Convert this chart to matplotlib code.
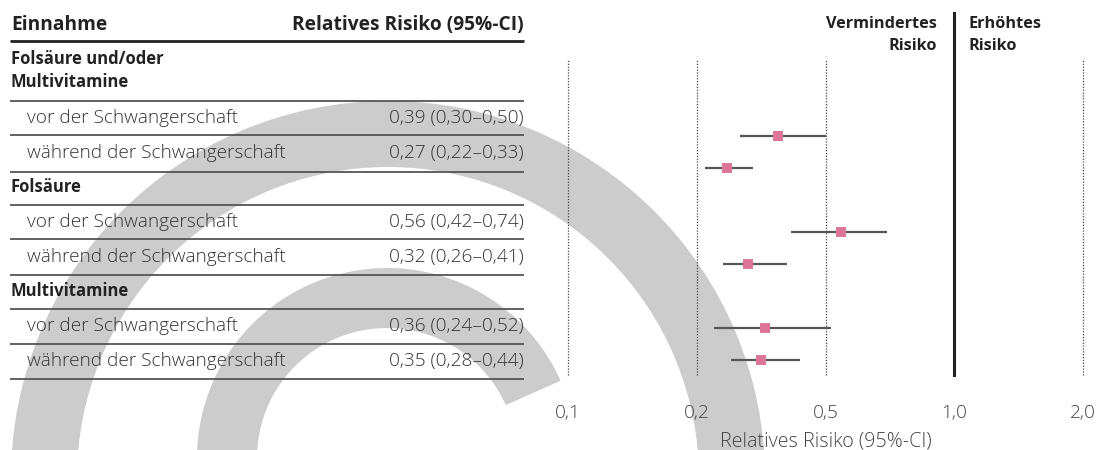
import matplotlib
matplotlib.use('Agg')
import matplotlib.pyplot as plt
import numpy as np
from matplotlib.patches import Wedge

plt.rcParams['font.family'] = ['Open Sans', 'DejaVu Sans']

# data
groups = ['Folsäure und/oder\nMultivitamine', 'Folsäure', 'Multivitamine']
timing = ['vor der Schwangerschaft', 'während der Schwangerschaft']
rr = [0.39, 0.27, 0.56, 0.32, 0.36, 0.35]
ci_low = [0.30, 0.22, 0.42, 0.26, 0.24, 0.28]
ci_high = [0.50, 0.33, 0.74, 0.41, 0.52, 0.44]
tick_vals = [0.1, 0.2, 0.5, 1.0, 2.0]
tick_labels = ['0,1', '0,2', '0,5', '1,0', '2,0']


def de(v):
    return f'{v:.2f}'.replace('.', ',')


pink = '#dd7696'
dark = '#222222'
txt = '#333333'
LW = 'light'
FS = 13.7    # light row text
FH = 13.8    # table header
FG = 12      # group labels
FR = 11.7    # risk header

fig = plt.figure(figsize=(11.05, 4.5), dpi=100)

# background layer in pixel units (y down) for the watermark arcs and the table
bg = fig.add_axes([0, 0, 1, 1], zorder=0)
bg.set_xlim(0, 1105)
bg.set_ylim(450, 0)
bg.axis('off')

bg.add_patch(Wedge((388, 478), 377, 0, 360, width=66, color='#cccccc', lw=0))
bg.add_patch(Wedge((387, 458), 190, -270, -24, width=60, color='#cccccc', lw=0))

# table header
bg.text(11, 30, 'Einnahme', fontsize=FH, fontweight='bold', color=dark, va='baseline')
bg.text(524, 30, 'Relatives Risiko (95%-CI)', fontsize=FH, fontweight='bold',
        color=dark, va='baseline', ha='right')
bg.hlines(40.7, 10, 524, color=dark, lw=2.0)

# table rows
group_base = [64.3, 192.3, 295.7]
row_base = [[123.3, 158.3], [226.7, 261.7], [330.7, 365.7]]
row_lines = [[100.7, 135, 172], [204.7, 238.7, 275], [309, 344.3, 379]]
k = 0
for g, name in enumerate(groups):
    for j, part in enumerate(name.split('\n')):
        bg.text(11, group_base[g] + 23 * j, part, fontsize=FG, fontweight='bold',
                color=dark, va='baseline')
    for t in range(2):
        bg.text(27, row_base[g][t], timing[t], fontsize=FS, fontweight=LW,
                color=txt, va='baseline')
        bg.text(524, row_base[g][t], f'{de(rr[k])} ({de(ci_low[k])}–{de(ci_high[k])})',
                fontsize=FS, fontweight=LW, color=txt, va='baseline', ha='right')
        k += 1
    for y in row_lines[g]:
        bg.hlines(y, 10, 524, color='#555555', lw=1.3)

# header above the forest plot
bg.text(937, 28, 'Vermindertes', fontsize=FR, fontweight='bold', color=dark, ha='right', va='baseline')
bg.text(937, 50, 'Risiko', fontsize=FR, fontweight='bold', color=dark, ha='right', va='baseline')
bg.text(968, 28, 'Erhöhtes', fontsize=FR, fontweight='bold', color=dark, va='baseline')
bg.text(968, 50, 'Risiko', fontsize=FR, fontweight='bold', color=dark, va='baseline')

# forest plot
ax = fig.add_axes([568 / 1105, 75 / 450, 515 / 1105, 316 / 450], zorder=1)
ax.patch.set_alpha(0)
idx = list(range(len(tick_vals)))
ax.set_xscale('function', functions=(lambda x: np.interp(x, tick_vals, idx),
                                     lambda u: np.interp(u, idx, tick_vals)))
ax.set_xlim(tick_vals[0], tick_vals[-1])
ax.set_ylim(8.465, -1.413)

ypos = [1, 2, 4, 5, 7, 8]
for v in tick_vals:
    if v == 1.0:
        ax.axvline(v, ymin=0, ymax=(375 - 13) / 316, clip_on=False, color=dark, lw=2.2)
    else:
        ax.axvline(v, color='#444444', lw=0.9, ls=(0, (1, 1.3)), clip_on=False)

ax.hlines(ypos, ci_low, ci_high, color='#555555', lw=1.6, zorder=2)
ax.plot(rr, ypos, 's', color=pink, markersize=7.4, mew=0, zorder=3)

ax.set_xticks(tick_vals, tick_labels)
ax.minorticks_off()
ax.set_yticks([])
ax.tick_params(axis='x', length=0, pad=21, labelsize=FS, labelcolor='#444444')
for lab in ax.get_xticklabels():
    lab.set_fontweight(LW)
ax.set_xlabel('Relatives Risiko (95%-CI)', fontsize=14.2, fontweight=LW,
              color='#444444', labelpad=7)
for s in ax.spines.values():
    s.set_visible(False)

fig.savefig('out.png', dpi=100)
